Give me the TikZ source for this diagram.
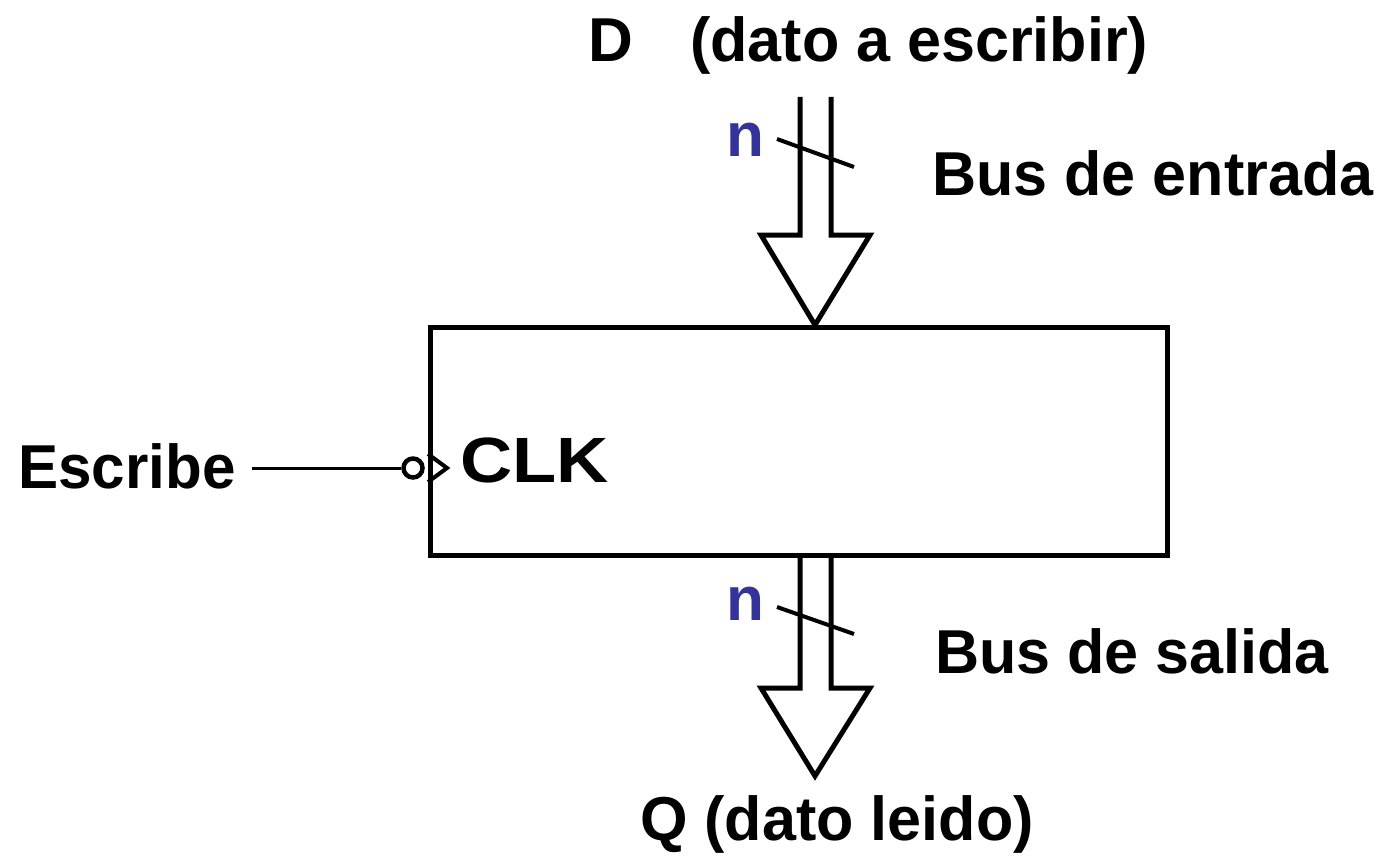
\documentclass[tikz,border=0pt]{standalone}
\usepackage{fontspec}
\setmainfont{Liberation Sans}
\definecolor{busblue}{RGB}{51,51,153}
\begin{document}
\begin{tikzpicture}[x=1pt,y=-1pt,
  wire/.style={line width=5pt,line join=miter},
  lbl/.style={font=\bfseries\fontsize{62}{62}\selectfont,inner sep=0pt,anchor=base west},
  nlbl/.style={lbl,text=busblue}]
\useasboundingbox (0,0) rectangle (1378,856);

% register body
\node[draw,line width=5pt,minimum width=737pt,minimum height=228pt,inner sep=0pt,anchor=north west] (reg) at (428,325) {};
\node[lbl,font=\bfseries\fontsize{64}{64}\selectfont,xscale=1.13] (clk) at (460,482) {CLK};

% clock input with inversion bubble and edge triangle
\coordinate (clktip) at (447,468);
\draw[wire,line width=4pt] (reg.west |- 0,454) -- (clktip) -- (reg.west |- 0,482);
\node[draw,circle,line width=4.5pt,minimum size=19pt,inner sep=0pt] (bubble) at (413,468) {};
\node[lbl,xscale=0.97] (escribe) at (18,488) {Escribe};
\draw[line width=3pt] (252,468) -- (bubble.west);

% input bus
\coordinate (intip) at (815,325);
\draw[wire] (800,97) -- (800,235) -- (761,235) -- (intip) -- (870,235) -- (831,235) -- (831,97);
\draw[wire,line width=4pt] (777,139) -- (854,167);
\node[nlbl] (nin) at (726,157) {n};
\node[lbl] (D) at (588,62) {D};
\node[lbl,xscale=0.985] (dato) at (690,62) {(dato a escribir)};
\node[lbl,xscale=0.985] (busin) at (932,195) {Bus de entrada};

% output bus
\coordinate (outtip) at (815,776);
\draw[wire] (800,553) -- (800,688) -- (761,688) -- (outtip) -- (870,688) -- (831,688) -- (831,553);
\draw[wire,line width=4pt] (777,607) -- (854,634);
\node[nlbl] (nout) at (726,620) {n};
\node[lbl,xscale=0.985] (busout) at (935,673) {Bus de salida};
\node[lbl,xscale=0.985] (Q) at (640,840) {Q (dato leido)};
\end{tikzpicture}
\end{document}
